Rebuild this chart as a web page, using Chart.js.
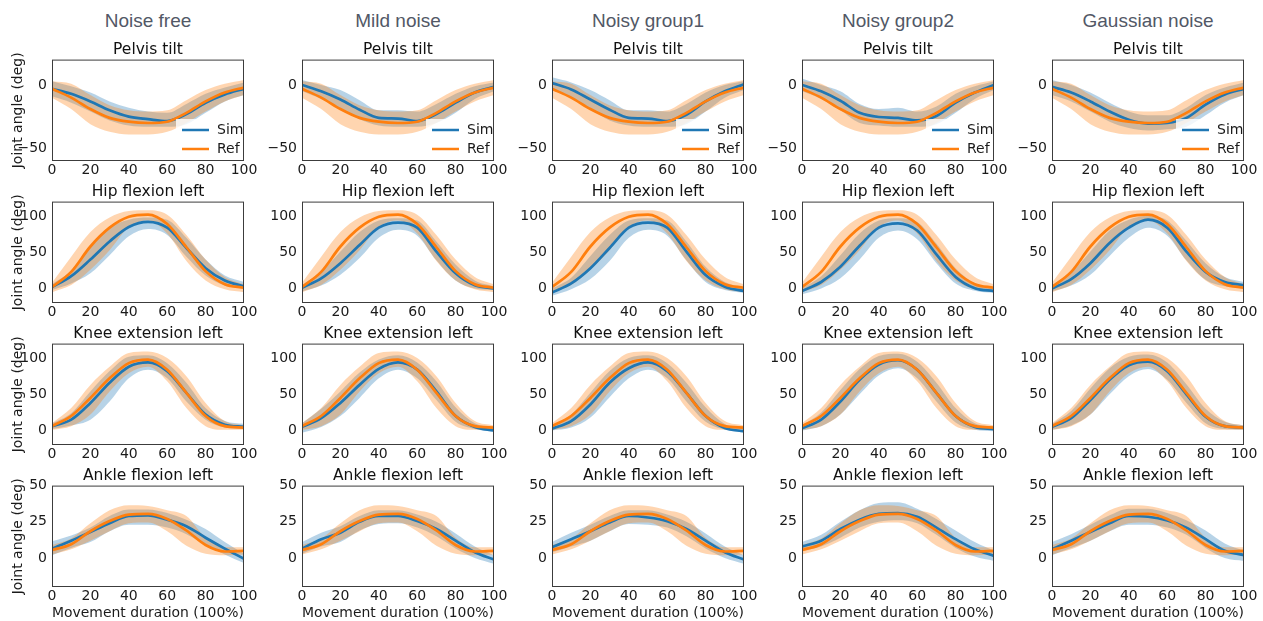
<!DOCTYPE html>
<html>
<head>
<meta charset="utf-8">
<script src="https://cdn.jsdelivr.net/npm/chart.js@4.4.1/dist/chart.umd.min.js"></script>
<style>
body{margin:0;background:#fff;width:1263px;height:621px;position:relative;overflow:hidden}
.hdr{position:absolute;top:10px;width:192px;line-height:22px;text-align:center;font-size:19px;font-family:"Liberation Sans",Arial,sans-serif;color:#525866;white-space:nowrap}
canvas{position:absolute}
</style>
</head>
<body>
<script>
// x positions (% of movement) and tick labels
const xPct = [0, 10, 20, 30, 40, 50, 60, 70, 80, 90, 100];
const xTicks = [0, 20, 40, 60, 80, 100];
const groups = ["Noise free", "Mild noise", "Noisy group1", "Noisy group2", "Gaussian noise"];
const joints = ["Pelvis tilt", "Hip flexion left", "Knee extension left", "Ankle flexion left"];
const yTicks = [[-50, 0], [0, 50, 100], [0, 50, 100], [0, 25, 50]];
const yMin = [-60, -20, -20, -20];
const yMax = [20, 120, 120, 50];

// reference (same in every column): mean, lower, upper
const refPelvis   = [-3, -10, -19, -26, -29, -30, -29, -22, -13, -6, -2];
const refPelvisLo = [-10, -19, -31, -37, -39, -39, -37, -30, -21, -13, -8];
const refPelvisHi = [3, 1, -8, -16, -20, -21, -20, -12, -4, 1, 4];
const refHip      = [2, 23, 58, 84, 99, 102, 89, 57, 24, 6, 1];
const refHipLo    = [-5, 5, 26, 53, 85, 94, 76, 38, 11, -1, -5];
const refHipHi    = [8, 44, 78, 98, 107, 108, 102, 74, 40, 16, 6];
const refKnee     = [6, 20, 45, 72, 93, 98, 84, 52, 20, 6, 4];
const refKneeLo   = [1, 6, 22, 54, 79, 88, 68, 31, 6, 1, 1];
const refKneeHi   = [10, 31, 63, 88, 107, 109, 100, 75, 38, 13, 7];
const refAnkle    = [5.5, 9.5, 18.5, 25.5, 30, 30.5, 27, 19, 9, 4.5, 5];
const refAnkleLo  = [2.5, 6, 12, 18.5, 24, 24.5, 18.5, 8.5, 3, 2, 2.5];
const refAnkleHi  = [9, 13.5, 24, 33, 36.5, 36, 33, 29, 14, 7.5, 7.5];

// simulated: Noise free
const simPelvisFree   = [-3, -7, -13, -20, -25, -27, -28.5, -23, -14, -7.5, -3];
const simPelvisFreeLo = [-9, -14, -21, -28, -32, -33, -33, -31, -22, -13, -8];
const simPelvisFreeHi = [3, -1, -6, -13, -18, -21, -22, -15, -7, -2, 2];
const simHipFree      = [2, 17, 40, 65, 85, 92, 84, 56, 28, 11, 3];
const simHipFreeLo    = [-2, 7, 21, 46, 72, 82, 74, 44, 18, 4, 0];
const simHipFreeHi    = [6, 25, 58, 84, 95, 98, 95, 70, 40, 18, 9];
const simKneeFree     = [6, 15, 38, 66, 88, 94, 82, 52, 22, 8, 5];
const simKneeFreeLo   = [2, 7, 15, 40, 72, 84, 72, 40, 15, 4, 2];
const simKneeFreeHi   = [10, 24, 54, 82, 102, 104, 93, 66, 31, 13, 9];
const simAnkleFree    = [6.5, 12, 18, 24, 29, 29.5, 26.5, 22, 14, 6.5, -0.5];
const simAnkleFreeLo  = [2, 7, 11, 18.5, 23, 23, 21, 16.5, 9, 2.5, -3.5];
const simAnkleFreeHi  = [11.5, 15.5, 21, 29, 33.5, 33.5, 31, 26.5, 20, 11, 3];

// simulated: Mild noise
const simPelvisMild   = [0, -5, -11.5, -19.5, -26, -26.5, -28.5, -23, -14, -6, -1.5];
const simPelvisMildLo = [-5, -11, -19, -27, -32, -33, -33, -30, -22, -11, -5];
const simPelvisMildHi = [4, 0, -4, -12, -20, -20, -21, -15, -7, -1, 2];
const simHipMild      = [1, 14, 35, 60, 84, 91, 84, 51, 21, 4.5, 0];
const simHipMildLo    = [-4, 4, 19, 42, 70, 81, 73, 39, 11, 0, -2];
const simHipMildHi    = [5, 23, 51, 78, 94, 97, 94, 65, 33, 11, 3];
const simKneeMild     = [5, 17, 38, 63, 85, 94, 84, 54, 20, 5, 0];
const simKneeMildLo   = [-3, 5, 20, 45, 72, 84, 72, 42, 12, 2, -2];
const simKneeMildHi   = [10, 30, 54, 80, 98, 104, 94, 68, 32, 10, 4];
const simAnkleMild    = [6.5, 13, 17.5, 25, 29, 29, 25.5, 20, 12, 4, -1];
const simAnkleMildLo  = [3, 8, 11, 19, 23.5, 24, 21, 15, 6.5, 0, -4];
const simAnkleMildHi  = [11, 17.5, 22, 29, 33, 33, 30, 25, 17, 8, 2];

// simulated: Noisy group1
const simPelvisN1   = [1.5, -3.5, -11.5, -19.5, -26, -26.5, -28.5, -23.5, -13, -5, 0.5];
const simPelvisN1Lo = [-4, -10, -19, -28, -32, -33, -33, -31, -21, -10, -4];
const simPelvisN1Hi = [6, 2, -4, -12, -20, -20, -21, -15, -6, 0, 3];
const simHipN1      = [-5.5, 7, 28, 56, 84, 91, 84, 51, 18.5, 2.5, -3.5];
const simHipN1Lo    = [-10, -1, 13, 38, 70, 81, 73, 39, 9, -2, -6];
const simHipN1Hi    = [0, 15, 45, 74, 94, 97, 94, 65, 30, 9, 1];
const simKneeN1     = [2.5, 13, 36, 66, 86, 94, 82, 52, 20, 3.5, -1];
const simKneeN1Lo   = [0, 4, 18, 46, 72, 84, 72, 40, 12, 1, -3];
const simKneeN1Hi   = [6, 22, 52, 82, 100, 104, 93, 66, 32, 9, 3];
const simAnkleN1    = [7.5, 13, 18.5, 24.5, 29, 28, 25.5, 20, 12, 4, -1];
const simAnkleN1Lo  = [4, 8, 12, 18.5, 23.5, 23, 21, 15, 6.5, 0, -4];
const simAnkleN1Hi  = [11, 17.5, 23, 29, 33, 33, 30, 25, 17, 8, 2];

// simulated: Noisy group2
const simPelvisN2   = [0, -5, -12.5, -22, -25.3, -26, -28, -24.5, -14, -6, 0];
const simPelvisN2Lo = [-5, -11, -20, -30, -32, -33, -33, -31, -22, -11, -4];
const simPelvisN2Hi = [5, 0, -5, -15, -19, -18, -21, -17, -7, -1, 3];
const simHipN2      = [-3.5, 9, 30, 59, 84, 90, 80, 47, 16, 0.5, -3.5];
const simHipN2Lo    = [-8, 0, 14, 40, 70, 80, 68, 35, 7, -3, -6];
const simHipN2Hi    = [1, 17, 46, 76, 94, 97, 92, 62, 28, 7, 1];
const simKneeN2     = [3, 15, 40, 70, 91, 97, 84, 52, 20, 5, 2];
const simKneeN2Lo   = [0, 6, 22, 50, 76, 86, 72, 40, 11, 1, -1];
const simKneeN2Hi   = [7, 25, 56, 85, 103, 106, 95, 66, 31, 10, 5];
const simAnkleN2    = [8, 12, 20, 26.5, 30.5, 31, 28.5, 21, 13, 6, 1.5];
const simAnkleN2Lo  = [5, 8, 14, 21, 25, 26, 24, 16, 7, 1, -2];
const simAnkleN2Hi  = [11, 16, 25, 33, 38, 38.5, 34, 27, 19, 11, 5];

// simulated: Gaussian noise
const simPelvisGauss   = [-1.5, -6, -13, -21, -27.5, -30.5, -30, -26, -15.5, -7.5, -3];
const simPelvisGaussLo = [-8, -13, -21, -29, -34, -36, -35, -33, -24, -14, -8];
const simPelvisGaussHi = [4, 0, -6, -14, -21, -24, -24, -18, -8, -2, 2];
const simHipGauss      = [0, 13, 35, 63, 84, 95, 84, 51, 23, 9, 4.5];
const simHipGaussLo    = [-4, 4, 19, 45, 70, 84, 73, 39, 12, 3, 0];
const simHipGaussHi    = [5, 22, 51, 80, 95, 100, 94, 66, 35, 16, 9];
const simKneeGauss     = [5, 17, 42, 70, 90, 95, 82, 50, 19, 6, 4];
const simKneeGaussLo   = [1, 7, 22, 50, 75, 85, 70, 38, 10, 2, 1];
const simKneeGaussHi   = [9, 27, 58, 86, 102, 105, 94, 64, 30, 12, 7];
const simAnkleGauss    = [6, 12, 18, 24, 29, 28.5, 26, 21, 13, 5, 2];
const simAnkleGaussLo  = [2, 7, 12, 18.5, 23, 23, 21, 16, 7, 0, -2];
const simAnkleGaussHi  = [11, 16.5, 23, 29.5, 34, 34, 31, 26, 19, 10, 5];

const refTable = [
  [refPelvis, refPelvisLo, refPelvisHi],
  [refHip, refHipLo, refHipHi],
  [refKnee, refKneeLo, refKneeHi],
  [refAnkle, refAnkleLo, refAnkleHi]
];
const simTable = [
  [[simPelvisFree, simPelvisFreeLo, simPelvisFreeHi], [simPelvisMild, simPelvisMildLo, simPelvisMildHi],
   [simPelvisN1, simPelvisN1Lo, simPelvisN1Hi], [simPelvisN2, simPelvisN2Lo, simPelvisN2Hi],
   [simPelvisGauss, simPelvisGaussLo, simPelvisGaussHi]],
  [[simHipFree, simHipFreeLo, simHipFreeHi], [simHipMild, simHipMildLo, simHipMildHi],
   [simHipN1, simHipN1Lo, simHipN1Hi], [simHipN2, simHipN2Lo, simHipN2Hi],
   [simHipGauss, simHipGaussLo, simHipGaussHi]],
  [[simKneeFree, simKneeFreeLo, simKneeFreeHi], [simKneeMild, simKneeMildLo, simKneeMildHi],
   [simKneeN1, simKneeN1Lo, simKneeN1Hi], [simKneeN2, simKneeN2Lo, simKneeN2Hi],
   [simKneeGauss, simKneeGaussLo, simKneeGaussHi]],
  [[simAnkleFree, simAnkleFreeLo, simAnkleFreeHi], [simAnkleMild, simAnkleMildLo, simAnkleMildHi],
   [simAnkleN1, simAnkleN1Lo, simAnkleN1Hi], [simAnkleN2, simAnkleN2Lo, simAnkleN2Hi],
   [simAnkleGauss, simAnkleGaussLo, simAnkleGaussHi]]
];

const BLUE = "#1f77b4", ORANGE = "#ff7f0e";
const colW = 250, yAxisW = 52, plotW = 192, padR = 18;
const rowTop = [60, 202, 344, 486], plotH = 101, titleH = 24;
const small = 14;

Chart.defaults.font.family = '"DejaVu Sans", sans-serif';
Chart.defaults.color = "#1a1a1a";

// box round the plot (matplotlib spines)
const frame = {
  id: "frame",
  afterDraw(chart){
    const {ctx, chartArea:a} = chart;
    ctx.save();
    ctx.strokeStyle = "#3c3c3c"; ctx.lineWidth = 1;
    ctx.strokeRect(a.left + 0.5, a.top + 0.5, a.width - 1, a.height - 1);
    ctx.restore();
  }
};

// legend in the lower right corner of the plot
const insideLegend = {
  id: "insideLegend",
  afterDatasetsDraw(chart, args, opts){
    if(!opts.show) return;
    const {ctx, chartArea:a} = chart;
    const items = [chart.data.datasets[1], chart.data.datasets[0]];
    ctx.save();
    ctx.fillStyle = "rgba(255,255,255,0.8)";
    ctx.fillRect(a.right - 68, a.bottom - 42, 66, 40);
    ctx.font = small + 'px "DejaVu Sans"';
    ctx.textBaseline = "middle";
    items.forEach((d, i) => {
      const y = a.bottom - 31 + i * 19;
      ctx.strokeStyle = d.borderColor; ctx.lineWidth = 2.5;
      ctx.beginPath(); ctx.moveTo(a.right - 62, y); ctx.lineTo(a.right - 35, y); ctx.stroke();
      ctx.fillStyle = "#1a1a1a";
      ctx.fillText(d.label, a.right - 27, y);
    });
    ctx.restore();
  }
};

const minus = v => String(v).replace("-", "\u2212");
const line = (vals, opts) => Object.assign({
  data: xPct.map((x, i) => ({x: x, y: vals[i]})),
  pointRadius: 0, borderWidth: 0, borderColor: "transparent",
  cubicInterpolationMode: "monotone", fill: false
}, opts);

groups.forEach((g, c) => {
  const h = document.createElement("div");
  h.className = "hdr";
  h.style.left = (c * colW + yAxisW) + "px";
  h.textContent = g;
  document.body.appendChild(h);
});

joints.forEach((joint, r) => {
  groups.forEach((g, c) => {
    const xh = r === 3 ? 35 : 20;
    const cv = document.createElement("canvas");
    cv.width = yAxisW + plotW + padR;
    cv.height = titleH + plotH + xh;
    cv.style.left = (c * colW) + "px";
    cv.style.top = (rowTop[r] - titleH) + "px";
    document.body.appendChild(cv);

    const [rm, rl, rh] = refTable[r];
    const [sm, sl, sh] = simTable[r][c];

    new Chart(cv, {
      type: "line",
      data: {
        datasets: [
          line(rm, {label: "Ref", borderColor: ORANGE, borderWidth: 2.7}),
          line(sm, {label: "Sim", borderColor: BLUE, borderWidth: 2.7}),
          line(rh, {fill: "+1", backgroundColor: "rgba(255,127,14,0.33)"}),
          line(rl, {}),
          line(sh, {fill: "+1", backgroundColor: "rgba(31,119,180,0.32)"}),
          line(sl, {})
        ]
      },
      options: {
        responsive: false, animation: false, events: [],
        layout: {padding: {left: 0, top: 0, right: padR, bottom: 0}},
        plugins: {
          legend: {display: false}, tooltip: {enabled: false},
          filler: {drawTime: "beforeDatasetsDraw"},
          title: {display: true, fullSize: false, text: joint, color: "#111", font: {size: 15.5, weight: "normal"}, padding: {top: 5, bottom: 0}},
          insideLegend: {show: r === 0}
        },
        scales: {
          x: {
            type: "linear", min: 0, max: 100,
            afterBuildTicks: s => { s.ticks = xTicks.map(v => ({value: v})); },
            afterFit: s => { s.height = xh; },
            grid: {display: false, drawTicks: false}, border: {display: false},
            ticks: {padding: 1, maxRotation: 0, font: {size: small}, color: "#1a1a1a"},
            title: {display: r === 3, text: "Movement duration (100%)", font: {size: small}, color: "#1a1a1a", padding: {top: 0, bottom: 0}}
          },
          y: {
            min: yMin[r], max: yMax[r],
            afterBuildTicks: s => { s.ticks = yTicks[r].map(v => ({value: v})); },
            afterFit: s => { s.width = yAxisW; },
            grid: {display: false, drawTicks: false}, border: {display: false},
            ticks: {padding: 5, font: {size: small}, color: "#1a1a1a", callback: v => minus(v)},
            title: {display: c === 0, text: "Joint angle (deg)", font: {size: small}, color: "#1a1a1a", padding: {top: 10, bottom: 0}}
          }
        }
      },
      plugins: [frame, insideLegend]
    });
  });
});
</script>
</body>
</html>
